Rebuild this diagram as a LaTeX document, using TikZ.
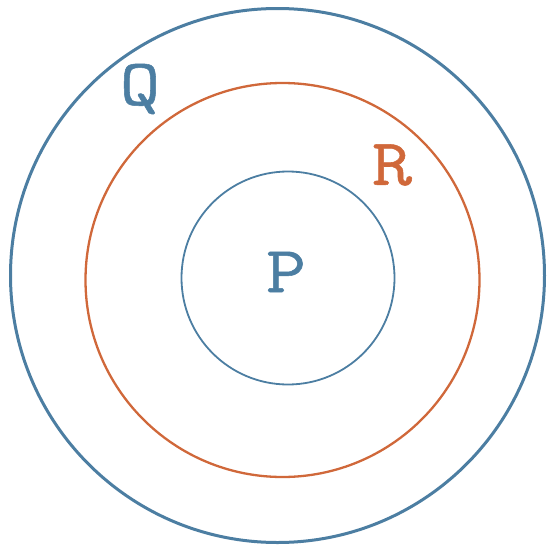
\documentclass[tikz,border=0pt]{standalone}
\usepackage{fontspec}
\newfontfamily\lblfont[FakeBold=0.8,FakeStretch=1.18]{Latin Modern Mono}
\begin{document}
\begin{tikzpicture}[x=1pt,y=-1pt,
  lbl/.style={font=\fontsize{66}{66}\selectfont\lblfont, inner sep=0pt}]
\definecolor{qblue}{RGB}{76,126,162}
\definecolor{rorange}{RGB}{208,104,58}
\useasboundingbox (0,0) rectangle (551,555);
\draw[qblue, line width=3pt] (277.5,275.5) circle (267);
\draw[rorange, line width=2.3pt] (282.5,280) circle (197);
\draw[qblue, line width=1.8pt] (288,278) circle (106.5);
\node[lbl, text=qblue] (P) at (286,272) {P};
\node[lbl, text=qblue] (Q) at (140,89) {Q};
\node[lbl, text=rorange] (R) at (392,165) {R};
\end{tikzpicture}
\end{document}
